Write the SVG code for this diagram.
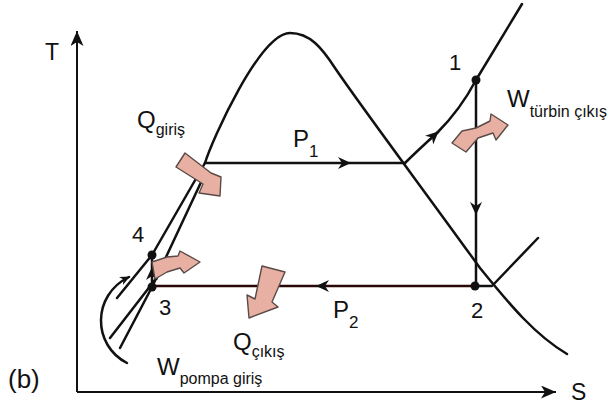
<svg xmlns="http://www.w3.org/2000/svg" width="614" height="408" viewBox="0 0 614 408">
<style>
.ln{fill:none;stroke:#111;stroke-width:2.5;stroke-linecap:round;stroke-linejoin:round}
.ax{fill:none;stroke:#111;stroke-width:2}
.p2{fill:none;stroke:#2a0808;stroke-width:2.6}
.blk{fill:#111;stroke:none}
.pk{fill:#e8b0a2;stroke:#5a4a48;stroke-width:1.4;stroke-linejoin:round}
.t{font-family:"Liberation Sans",Arial,sans-serif;font-size:23px;fill:#111}
.q{font-size:24px}
.b{font-size:26px}
.n{font-family:"Liberation Sans",Arial,sans-serif;font-size:22px;fill:#111}
.s{font-size:16px}
.sd{font-size:17px}
</style>
<defs>
<marker id="ah" markerUnits="userSpaceOnUse" markerWidth="16" markerHeight="14" refX="12" refY="6" orient="auto"><path d="M0,0 L13,6 L0,12 L4,6 Z" fill="#111"/></marker>
<marker id="axh" markerUnits="userSpaceOnUse" markerWidth="17" markerHeight="15" refX="15" refY="6.5" orient="auto"><path d="M0,0 L15,6.5 L0,13 L4,6.5 Z" fill="#111"/></marker>
<marker id="sm" markerUnits="userSpaceOnUse" markerWidth="12" markerHeight="10" refX="9" refY="4.5" orient="auto"><path d="M0,0 L10,4.5 L0,9 L3,4.5 Z" fill="#111"/></marker>
</defs>
<rect width="614" height="408" fill="#fff"/>
<g id="axes">
<path class="ax" d="M77,392 L77,31" marker-end="url(#axh)"/>
<path class="ax" d="M77,392 L556,392" marker-end="url(#axh)"/>
<text class="t" x="45" y="60">T</text>
<text class="t" x="571" y="400">S</text>
</g>
<g id="dome">
<path class="ln" d="M205,163 C212,140 260,33 290,33 C310,33 322,48 335,68 C360,105 420,185 480,268 C510,305 535,335 567,354"/>
<path class="ln" d="M205,163 L152,255 L117,298"/>
<path class="ln" d="M203,178 L152,287 L120,348"/>
<path class="ln" d="M158,276 L110,338"/>
</g>
<g id="connectors">
<path class="ln" d="M205,163 L350,163 L405,163" marker-mid="url(#ah)"/>
<path class="ln" d="M405,163 C415,153 427,142 438,132" marker-end="url(#ah)"/>
<path class="ln" d="M437,133 C452,118 466,99 476,80 L522,4"/>
<path class="ln" d="M476,80 L476,214 L476,286" marker-mid="url(#ah)"/>
<path class="p2" d="M475,286 L317,286 L152,286" marker-mid="url(#ah)"/>
<path class="ln" d="M475,286 L492,286 L538,238"/>
<path class="ln" d="M152,287 L152,268 L152,255" marker-mid="url(#ah)"/>
<path class="ln" stroke-width="1.8" d="M127,363 C92,345 92,295 129,277" marker-end="url(#sm)"/>
</g>
<g id="state-1"><circle class="blk" cx="476" cy="80" r="4.5"/><text class="n" x="449" y="70">1</text></g>
<g id="state-2"><circle class="blk" cx="475" cy="286" r="4.5"/><text class="n" x="471" y="318">2</text></g>
<g id="state-3"><circle class="blk" cx="152" cy="287" r="4.5"/><text class="n" x="159" y="315">3</text></g>
<g id="state-4"><circle class="blk" cx="152" cy="255" r="4.5"/><text class="n" x="132" y="242">4</text></g>
<g id="q-in">
<path class="pk" d="M185,153 L211,173 L221,177 L220,196 L199,193 L203,184 L176,167 Z"/>
<text class="t q" x="137" y="128">Q<tspan class="s" dy="7">giriş</tspan></text>
</g>
<g id="p1-label"><text class="t q" x="293" y="147">P<tspan class="sd" dy="10">1</tspan></text></g>
<g id="w-turbine">
<path class="pk" d="M452,143 L462,131 L476,128 L490,121 L491,114 L508,125 L496,140 L493,133 L478,138 L466,152 Z"/>
<text class="t q" x="507" y="107">W<tspan class="s" dy="10">türbin çıkış</tspan></text>
</g>
<g id="w-pump">
<path class="pk" d="M152,262 L167,257 L178,256 L180,251 L200,262 L184,273 L180,268 L167,272 L155,279 Z"/>
<text class="t q" x="157" y="375">W<tspan class="s" dy="9">pompa giriş</tspan></text>
</g>
<g id="q-out">
<path class="pk" d="M262,266 L285,272 L272,302 L278,307 L249,318 L247,295 L255,299 Z"/>
<text class="t q" x="233" y="350">Q<tspan class="s" dy="7">çıkış</tspan></text>
</g>
<g id="p2-label"><text class="t q" x="333" y="318">P<tspan class="sd" dy="10">2</tspan></text></g>
<text class="t b" x="8" y="388">(b)</text>
</svg>
